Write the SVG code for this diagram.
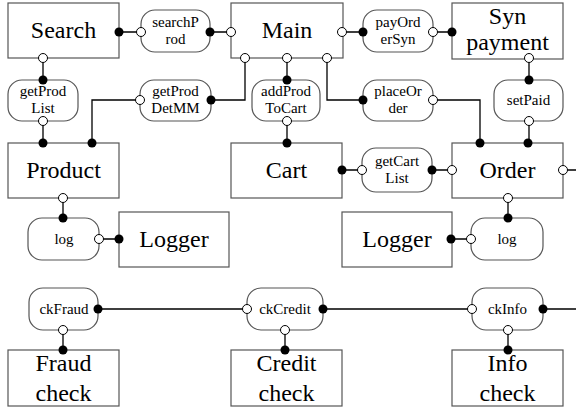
<svg xmlns="http://www.w3.org/2000/svg" width="576" height="412" viewBox="0 0 576 412">
<style>
.box{fill:#fff;stroke:#555;stroke-width:1.2}
.cap{fill:#fff;stroke:#555;stroke-width:1.2}
.t{font-family:'Liberation Serif','DejaVu Serif',serif;fill:#000;text-anchor:middle}
.big{font-size:24px}
.sm{font-size:15px}
.ln{stroke:#000;stroke-width:1.3;fill:none}
.o{fill:#fff;stroke:#000;stroke-width:1}
.f{fill:#000}
</style>
<rect width="576" height="412" fill="#fff"/>
<g id="nodes" class="t" font-family="Liberation Serif, DejaVu Serif, serif">
<g id="search"><rect class="box" x="8" y="3" width="111" height="55"/><text class="big" x="63.5" y="38">Search</text></g>
<g id="main"><rect class="box" x="231" y="3" width="112" height="55"/><text class="big" x="287" y="38">Main</text></g>
<g id="synpayment"><rect class="box" x="452" y="3" width="111" height="56"/><text class="big" x="507.5" y="24">Syn</text><text class="big" x="507.5" y="50">payment</text></g>
<g id="searchProd"><rect class="cap" x="141" y="10" width="69" height="42" rx="14"/><text class="sm" x="175.5" y="27">searchP</text><text class="sm" x="175.5" y="44">rod</text></g>
<g id="payOrderSyn"><rect class="cap" x="363" y="10" width="70" height="42" rx="14"/><text class="sm" x="398" y="27">payOrd</text><text class="sm" x="398" y="44">erSyn</text></g>
<g id="getProdList"><rect class="cap" x="8" y="80" width="70" height="41" rx="14"/><text class="sm" x="43" y="96">getProd</text><text class="sm" x="43" y="113">List</text></g>
<g id="getProdDetMM"><rect class="cap" x="140" y="80" width="71" height="41" rx="14"/><text class="sm" x="175.5" y="96">getProd</text><text class="sm" x="175.5" y="113">DetMM</text></g>
<g id="addProdToCart"><rect class="cap" x="252" y="80" width="68" height="41" rx="14"/><text class="sm" x="286" y="96">addProd</text><text class="sm" x="286" y="113">ToCart</text></g>
<g id="placeOrder"><rect class="cap" x="363" y="80" width="70" height="41" rx="14"/><text class="sm" x="398" y="96">placeOr</text><text class="sm" x="398" y="113">der</text></g>
<g id="setPaid"><rect class="cap" x="494" y="80" width="69" height="41" rx="14"/><text class="sm" x="528.5" y="105">setPaid</text></g>
<g id="product"><rect class="box" x="8" y="143" width="111" height="55"/><text class="big" x="63.5" y="178">Product</text></g>
<g id="cart"><rect class="box" x="231" y="143" width="111" height="55"/><text class="big" x="286.5" y="178">Cart</text></g>
<g id="order"><rect class="box" x="452" y="143" width="111" height="55"/><text class="big" x="507.5" y="178">Order</text></g>
<g id="getCartList"><rect class="cap" x="362" y="148" width="70" height="44" rx="14"/><text class="sm" x="397" y="166">getCart</text><text class="sm" x="397" y="183">List</text></g>
<g id="log1"><rect class="cap" x="28" y="218" width="71" height="42" rx="14"/><text class="sm" x="64" y="244">log</text></g>
<g id="logger1"><rect class="box" x="119" y="212" width="110" height="55"/><text class="big" x="174" y="247">Logger</text></g>
<g id="logger2"><rect class="box" x="342" y="212" width="110" height="55"/><text class="big" x="397" y="247">Logger</text></g>
<g id="log2"><rect class="cap" x="471" y="218" width="72" height="42" rx="14"/><text class="sm" x="507" y="244">log</text></g>
<g id="ckFraud"><rect class="cap" x="29" y="288" width="69" height="42" rx="14"/><text class="sm" x="64" y="314">ckFraud</text></g>
<g id="ckCredit"><rect class="cap" x="247" y="288" width="76" height="42" rx="14"/><text class="sm" x="285" y="314">ckCredit</text></g>
<g id="ckInfo"><rect class="cap" x="472" y="288" width="71" height="42" rx="14"/><text class="sm" x="507.5" y="314">ckInfo</text></g>
<g id="fraudcheck"><rect class="box" x="8" y="350" width="111" height="56"/><text class="big" x="63.5" y="371">Fraud</text><text class="big" x="63.5" y="401">check</text></g>
<g id="creditcheck"><rect class="box" x="231" y="350" width="111" height="56"/><text class="big" x="286.5" y="371">Credit</text><text class="big" x="286.5" y="401">check</text></g>
<g id="infocheck"><rect class="box" x="452" y="350" width="111" height="56"/><text class="big" x="507.5" y="371">Info</text><text class="big" x="507.5" y="401">check</text></g>
</g>
<g id="connectors">
<path class="ln" d="M119 32H141M210 32H231M342 32H363M433 32H452M43 58V80M43 121V143M140 100H92V143M245 58V100H211M287 58V80M287 121V143M327 58V100H363M433 100H480V143M529 58V80M529 121V143M342 170H362M432 170H452M563 170H576M63 198V218M99 239H119M508 198V218M471 239H451M63 330V350M98 309H247M285 330V350M323 309H472M508 330V350M543 309H576"/>
<g class="f">
<circle cx="119" cy="32" r="4.5"/><circle cx="210" cy="32" r="4.5"/><circle cx="363" cy="32" r="4.5"/><circle cx="452" cy="32" r="4.5"/>
<circle cx="43" cy="80" r="4.5"/><circle cx="43" cy="143" r="4.5"/><circle cx="92" cy="143" r="4.5"/><circle cx="211" cy="100" r="4.5"/>
<circle cx="287" cy="80" r="4.5"/><circle cx="287" cy="143" r="4.5"/><circle cx="363" cy="100" r="4.5"/><circle cx="480" cy="143" r="4.5"/>
<circle cx="529" cy="80" r="4.5"/><circle cx="528" cy="143" r="4.5"/><circle cx="342" cy="170" r="4.5"/><circle cx="432" cy="170" r="4.5"/>
<circle cx="63" cy="218" r="4.5"/><circle cx="119" cy="239" r="4.5"/><circle cx="508" cy="218" r="4.5"/><circle cx="451" cy="239" r="4.5"/>
<circle cx="63" cy="350" r="4.5"/><circle cx="98" cy="309" r="4.5"/><circle cx="285" cy="350" r="4.5"/><circle cx="323" cy="309" r="4.5"/>
<circle cx="508" cy="350" r="4.5"/><circle cx="543" cy="309" r="4.5"/>
</g>
<g class="o">
<circle cx="141" cy="32" r="4.5"/><circle cx="231" cy="32" r="4.5"/><circle cx="342" cy="32" r="4.5"/><circle cx="433" cy="32" r="4.5"/>
<circle cx="43" cy="58" r="4.5"/><circle cx="43" cy="121" r="4.5"/><circle cx="140" cy="100" r="4.5"/><circle cx="245" cy="58" r="4.5"/>
<circle cx="287" cy="58" r="4.5"/><circle cx="287" cy="121" r="4.5"/><circle cx="327" cy="58" r="4.5"/><circle cx="433" cy="100" r="4.5"/>
<circle cx="529" cy="58" r="4.5"/><circle cx="529" cy="121" r="4.5"/><circle cx="362" cy="170" r="4.5"/><circle cx="452" cy="170" r="4.5"/>
<circle cx="563" cy="170" r="4.5"/><circle cx="63" cy="198" r="4.5"/><circle cx="99" cy="239" r="4.5"/><circle cx="508" cy="198" r="4.5"/>
<circle cx="471" cy="239" r="4.5"/><circle cx="63" cy="330" r="4.5"/><circle cx="247" cy="309" r="4.5"/><circle cx="285" cy="330" r="4.5"/>
<circle cx="472" cy="309" r="4.5"/><circle cx="508" cy="330" r="4.5"/>
</g>
</g>
</svg>
